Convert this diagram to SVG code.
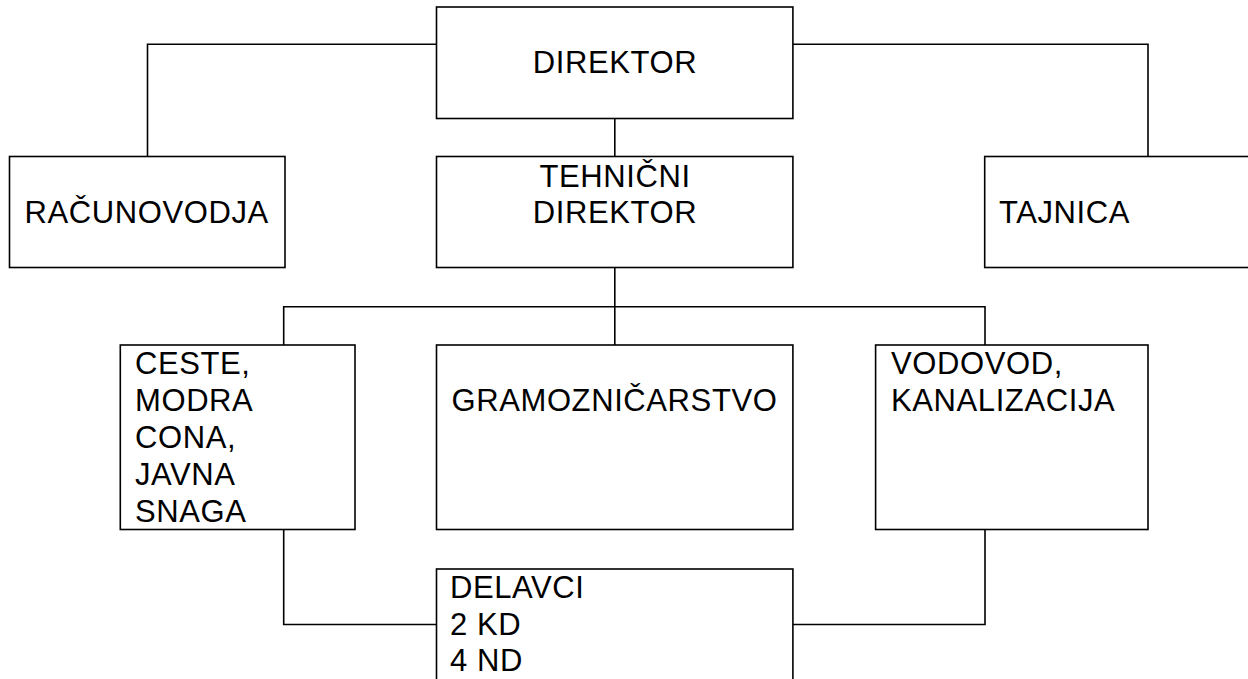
<svg xmlns="http://www.w3.org/2000/svg" width="1248" height="679" viewBox="0 0 1248 679">
<style>
.box{fill:#fff;stroke:#000;stroke-width:1.6}
.con{fill:none;stroke:#000;stroke-width:1.6}
text{font-family:"Liberation Sans",Arial,sans-serif;font-size:31px;letter-spacing:0.6px;fill:#000}
.c{text-anchor:middle}
</style>
<rect width="1248" height="679" fill="#fff"/>
<g id="connectors">
<path class="con" d="M147.5 156.5 V44.3 H436.5"/>
<path class="con" d="M792.9 44.3 H1148 V156.5"/>
<path class="con" d="M614.8 118.5 V156.5"/>
<path class="con" d="M614.8 267.5 V345"/>
<path class="con" d="M283.7 345 V306.7 H985 V345"/>
<path class="con" d="M283.7 529.5 V624.5 H436.5"/>
<path class="con" d="M985 529.5 V624.5 H792.9"/>
</g>
<g id="direktor">
<rect class="box" x="436.5" y="7" width="356.4" height="111.5"/>
<text class="c" x="615" y="73">DIREKTOR</text>
</g>
<g id="racunovodja">
<rect class="box" x="9.5" y="156.5" width="275.5" height="111"/>
<text x="24.5" y="223">RAČUNOVODJA</text>
</g>
<g id="tehnicni">
<rect class="box" x="436.5" y="156.5" width="356.4" height="111"/>
<text class="c" x="615" y="186.7">TEHNIČNI</text>
<text class="c" x="615" y="223.3">DIREKTOR</text>
</g>
<g id="tajnica">
<rect class="box" x="984.7" y="156.5" width="280" height="111"/>
<text x="999" y="223">TAJNICA</text>
</g>
<g id="ceste">
<rect class="box" x="120.3" y="345" width="234.7" height="184.5"/>
<text x="135" y="374">CESTE,</text>
<text x="135" y="411">MODRA</text>
<text x="135" y="448">CONA,</text>
<text x="135" y="485">JAVNA</text>
<text x="135" y="521.5">SNAGA</text>
</g>
<g id="gramoznicarstvo">
<rect class="box" x="436.5" y="345" width="356.4" height="184.5"/>
<text x="451.5" y="411">GRAMOZNIČARSTVO</text>
</g>
<g id="vodovod">
<rect class="box" x="875.6" y="345" width="272.4" height="184.5"/>
<text x="891" y="374">VODOVOD,</text>
<text x="891" y="411">KANALIZACIJA</text>
</g>
<g id="delavci">
<rect class="box" x="436.5" y="569" width="356.4" height="130"/>
<text x="450" y="598.3">DELAVCI</text>
<text x="450" y="634.5">2 KD</text>
<text x="450" y="671">4 ND</text>
</g>
</svg>
